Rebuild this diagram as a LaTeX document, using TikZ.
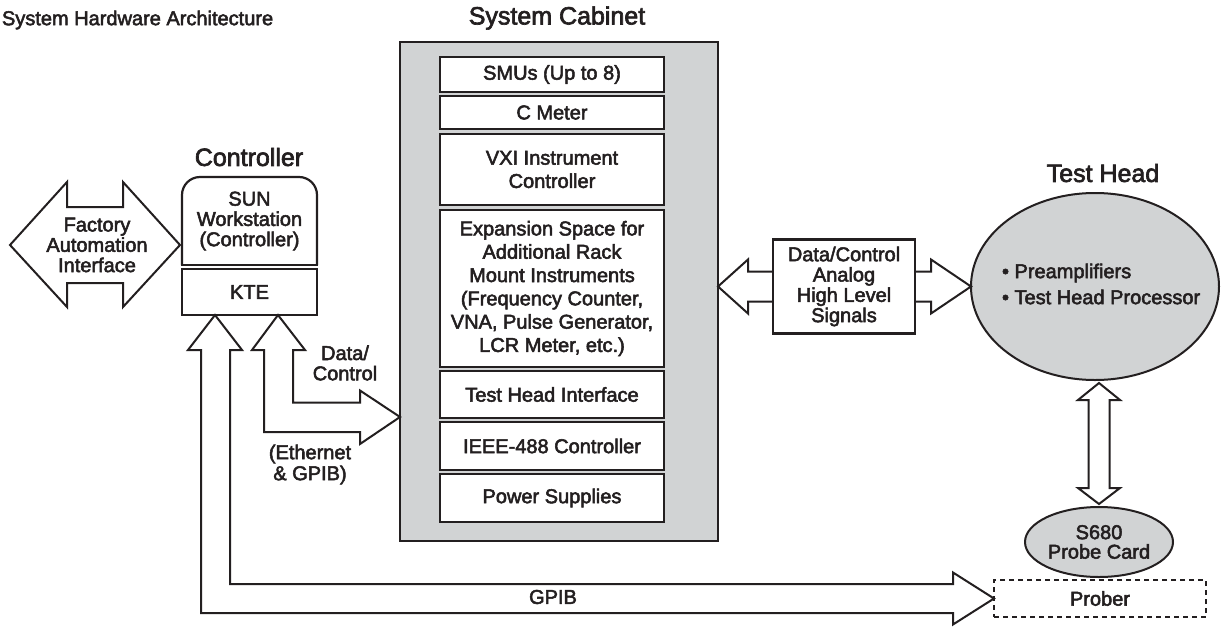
\documentclass[tikz,border=0pt]{standalone}
\usepackage{fontspec}
\newfontfamily\lbl{Liberation Sans}[FakeBold=2.6]
\usetikzlibrary{calc,shapes.geometric}

\definecolor{ink}{HTML}{231F20}
\definecolor{cab}{HTML}{D1D3D4}

\begin{document}
\begin{tikzpicture}[x=1pt,y=-1pt,
  every node/.style={font=\lbl\fontsize{20}{23.3}\selectfont, text=ink, inner sep=0pt, outer sep=0pt, align=center},
  tight/.style={font=\lbl\fontsize{20}{20.3}\selectfont},
  box/.style={draw=ink, line width=2.2pt, fill=white, rectangle},
  unit/.style={box, minimum width=224pt},
  blk/.style={draw=ink, line width=2pt, fill=white, line join=miter},
  heading/.style={font=\lbl\fontsize{25}{28}\selectfont}
]
\useasboundingbox (0,0) rectangle (1221,632);

% ---- titles
\node[anchor=west] (hdr) at (2,20) {System Hardware Architecture};
\node[heading] (cabtitle) at (557,18) {System Cabinet};
\node[heading] (ctltitle) at (249,157) {Controller};
\node[heading] (thtitle) at (1103,173) {Test Head};

% ---- system cabinet with its instrument slots
\node[draw=ink, line width=2.4pt, fill=cab, minimum width=318pt, minimum height=499pt] (cabinet) at (559,291.5) {};
\node[unit, minimum height=35pt] (smu)  at (552,74.5)  {SMUs (Up to 8)};
\node[unit, minimum height=33pt] (cm)   at (552,112.5) {C Meter};
\node[unit, minimum height=71pt] (vxi)  at (552,169.5) {VXI Instrument\\Controller};
\node[unit, minimum height=157pt] (exp) at (552,288.5) {Expansion Space for\\Additional Rack\\Mount Instruments\\(Frequency Counter,\\VNA, Pulse Generator,\\LCR Meter, etc.)};
\node[unit, minimum height=47pt] (thi)  at (552,394.5) {Test Head Interface};
\node[unit, minimum height=48pt] (ieee) at (552,446)   {IEEE-488 Controller};
\node[unit, minimum height=48pt] (psu)  at (552,498)   {Power Supplies};

% ---- controller: workstation with rounded top, KTE below
\node[tight, minimum width=135pt, minimum height=88pt] (sun) at (249.5,221) {SUN\\Workstation\\(Controller)};
\draw[draw=ink, line width=2.2pt, rounded corners=18pt]
  (sun.south west) -- (sun.north west) -- (sun.north east) -- (sun.south east);
\draw[draw=ink, line width=2.2pt, line cap=rect] (sun.south west) -- (sun.south east);
\node[box, minimum width=135pt, minimum height=46pt] (kte) at (249.5,292) {KTE};

% ---- factory automation double arrow
\coordinate (fw) at (10,245);
\coordinate (fe) at (180,245);
\draw[blk] (fw) -- ++(57,-63) -- ++(0,25) -- ($(fe)+(-57,-38)$) -- ++(0,-25) -- (fe)
  -- ++(-57,62) -- ++(0,-24) -- ($(fw)+(57,38)$) -- ++(0,24) -- cycle;
\node[tight] (fa) at (97,245) {Factory\\Automation\\Interface};

% ---- prober and probe card
\node[draw=ink, line width=2pt, dash pattern=on 5pt off 4pt, minimum width=212pt, minimum height=37pt] (prober) at (1100,598.5) {Prober};
\node[ellipse, draw=ink, line width=2pt, fill=cab, minimum width=148pt, minimum height=70pt, tight, font=\lbl\fontsize{20}{19.5}\selectfont] (pc) at (1099,542) {S680\\Probe Card};

% ---- test head
\node[ellipse, draw=ink, line width=2pt, fill=cab, minimum width=248pt, minimum height=187pt] (th) at (1095,286.5) {};
\node[anchor=west, align=left, font=\lbl\fontsize{20}{26}\selectfont] (thlist) at (1002,284) {\textbullet\ Preamplifiers\\\textbullet\ Test Head Processor};

% ---- KTE to prober (GPIB)
\coordinate (k1) at ([xshift=-34.5pt]kte.south);
\coordinate (pw) at (prober.west);
\draw[blk] (k1) -- ++(27,35) -- ++(-12,0) |- ($(pw)+(-41,-14.5)$) -- ++(0,-11.5) -- (pw)
  -- ++(-41,26) -- ++(0,-11.5) -| ($(k1)+(-14,35)$) -- ++(-13,0) -- cycle;
\node (gpib) at (553,597) {GPIB};

% ---- KTE to cabinet (Ethernet & GPIB)
\coordinate (k2) at ([xshift=28.5pt]kte.south);
\coordinate (yrow) at (0,417);
\coordinate (cw) at (cabinet.west |- yrow);
\draw[blk] (k2) -- ++(27,35) -- ++(-12,0) |- ($(cw)+(-40,-14.5)$) -- ++(0,-12) -- (cw)
  -- ++(-40,27) -- ++(0,-12) -| ($(k2)+(-14,35)$) -- ++(-12,0) -- cycle;
\node[tight] (dcl) at (345,363) {Data/\\Control};
\node[tight, font=\lbl\fontsize{20}{21}\selectfont] (eth) at (310,464.5) {(Ethernet\\\&~GPIB)};

% ---- cabinet to test head signals
\coordinate (ce) at (cabinet.east |- th.west);
\coordinate (thw) at (th.west);
\draw[blk] (ce) -- ++(30,-27) -- ++(0,12) -- ($(thw)+(-40,-15)$) -- ++(0,-12) -- (thw)
  -- ++(-40,27) -- ++(0,-12) -- ($(ce)+(30,15)$) -- ++(0,12) -- cycle;
\node[box, tight, minimum width=142pt, minimum height=94pt] (sig) at (844,286.5) {Data/Control\\Analog\\High Level\\Signals};

% ---- test head to probe card
\coordinate (tb) at ($(pc.north |- th.south)+(0,3)$);
\coordinate (pt) at ($(pc.north)+(0,-3)$);
\draw[blk] (tb) -- ++(21,17) -- ++(-10.5,0) -- ($(pt)+(10.5,-16)$) -- ++(10.5,0) -- (pt)
  -- ++(-21,-16) -- ++(10.5,0) -- ($(tb)+(-10.5,17)$) -- ++(-10.5,0) -- cycle;
\end{tikzpicture}
\end{document}
